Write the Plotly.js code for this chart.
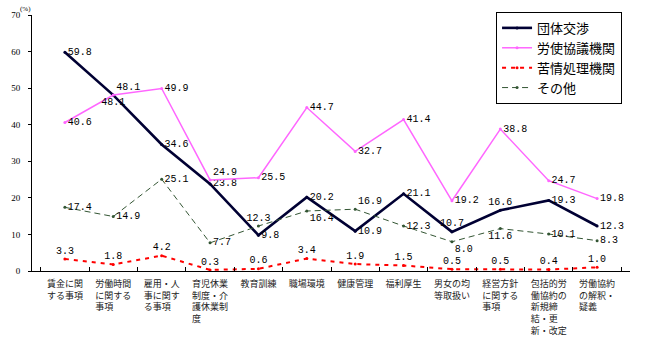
<!DOCTYPE html>
<html><head><meta charset="utf-8">
<script src="https://cdn.plot.ly/plotly-3.0.1.min.js"></script>
<style>body{margin:0;background:#fff}#c{width:650px;height:352px}</style>
</head><body><div id="c"></div>
<script>
const categories = [
  "賃金に関<br>する事項",
  "労働時間<br>に関する<br>事項　　",
  "雇用・人<br>事に関す<br>る事項　",
  "育児休業<br>制度・介<br>護休業制<br>度　　　",
  "教育訓練",
  "職場環境",
  "健康管理",
  "福利厚生",
  "男女の均<br>等取扱い",
  "経営方針<br>に関する<br>事項　　",
  "包括的労<br>働協約の<br>新規締　<br>結・更　<br>新・改定",
  "労働協約<br>の解釈・<br>疑義　　"
];
const seriesNames = ["団体交渉", "労使協議機関", "苦情処理機関", "その他"];
const dantai   = [59.8, 48.1, 34.6, 23.8, 9.8, 20.2, 10.9, 21.1, 10.7, 16.6, 19.3, 12.3];
const roushi   = [40.6, 48.1, 49.9, 24.9, 25.5, 44.7, 32.7, 41.4, 19.2, 38.8, 24.7, 19.8];
const kujou    = [3.3, 1.8, 4.2, 0.3, 0.6, 3.4, 1.9, 1.5, 0.5, 0.5, 0.4, 1.0];
const sonota   = [17.4, 14.9, 25.1, 7.7, 12.3, 16.4, 16.9, 12.3, 8.0, 11.6, 10.1, 8.3];

const MR = "middle right", TR = "top right", TC = "top center", BC = "bottom center", BR = "bottom right";
const posDantai = [MR, TR, MR, MR, MR, MR, MR, MR, TC, TC, MR, MR];
const posRoushi = [MR, BC, MR, TR, MR, MR, MR, MR, MR, MR, MR, MR];
const posKujou  = Array(12).fill(TC);
const posSonota = [MR, MR, MR, MR, TC, BR, TR, MR, BR, BC, MR, MR];

const fmt = v => v.toFixed(1);
const labelFont = {family: "Liberation Mono, monospace", size: 10, color: "#000"};

const traces = [
  {y: dantai, name: seriesNames[0], line: {color: "#000033", width: 2.6}, marker: {size: 3, color: "#000033"}, textposition: posDantai},
  {y: roushi, name: seriesNames[1], line: {color: "#FF66FF", width: 1.5}, marker: {size: 3, color: "#FF66FF"}, textposition: posRoushi},
  {y: kujou, name: seriesNames[2], line: {color: "#FF0000", width: 2, dash: "4px,5px"}, marker: {size: 3, color: "#FF0000"}, textposition: posKujou},
  {y: sonota, name: seriesNames[3], line: {color: "#335533", width: 1, dash: "6px,4px"}, marker: {size: 3, color: "#335533"}, textposition: posSonota}
].map(t => Object.assign(t, {
  x: categories, type: "scatter", mode: "lines+markers+text",
  text: t.y.map(fmt), textfont: labelFont, cliponaxis: false, hoverinfo: "none"
}));

const layout = {
  width: 650, height: 352,
  margin: {l: 32, r: 20, t: 15, b: 81},
  paper_bgcolor: "#fff", plot_bgcolor: "#fff",
  showlegend: true,
  legend: {
    x: 0.776, y: 1.012, xanchor: "left", yanchor: "top",
    bordercolor: "#000", borderwidth: 1, bgcolor: "#fff",
    font: {family: "Noto Sans CJK JP", size: 13, color: "#000"},
    itemwidth: 30
  },
  xaxis: {
    type: "category", showgrid: false, zeroline: false,
    showline: true, linecolor: "#000", linewidth: 1,
    ticks: "inside", ticklen: 4, tickcolor: "#000", tickson: "boundaries",
    tickfont: {family: "Noto Sans CJK JP", size: 9, color: "#222"},
    ticklabelstandoff: 4,
    tickangle: 0, automargin: false
  },
  yaxis: {
    range: [0, 70], dtick: 10, showgrid: false, zeroline: false,
    showline: true, linecolor: "#000", linewidth: 1,
    ticks: "outside", ticklen: 3, tickcolor: "#000",
    tickfont: {family: "Liberation Serif", size: 9, color: "#000"},
    ticklabelstandoff: 6,
    automargin: false
  },
  annotations: [{
    text: "(%)", xref: "paper", yref: "paper", x: 0.002, y: 1.0, xanchor: "right", yanchor: "bottom",
    showarrow: false, font: {family: "Liberation Serif", size: 7, color: "#000"}
  }]
};
Plotly.newPlot("c", traces, layout, {displayModeBar: false, staticPlot: true});
</script></body></html>
